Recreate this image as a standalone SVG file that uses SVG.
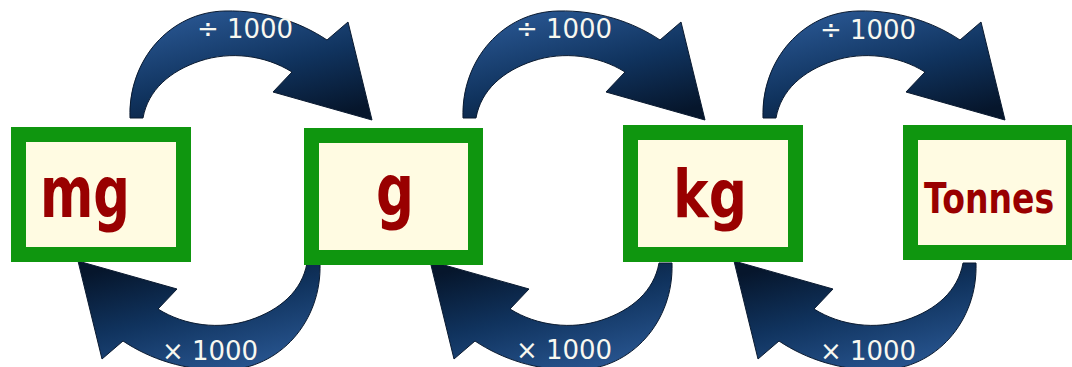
<svg xmlns="http://www.w3.org/2000/svg" xmlns:xlink="http://www.w3.org/1999/xlink" width="1072" height="367" viewBox="0 0 1072 367">
<style>
.box{fill:#fffbe2;stroke:#0f960f;stroke-width:15}
.frame{fill:#0f960f}
.inner{fill:#fffbe2}
.unit{font-family:"DejaVu Sans",sans-serif;font-weight:bold;fill:#990000}
.lbl{font-family:"DejaVu Sans",sans-serif;font-size:26px;fill:#f8f8f0;text-anchor:middle}
.arr{fill:url(#ag);stroke:#0a1a30;stroke-width:1}
</style>
<defs>
<linearGradient id="ag" x1="0.2" y1="0" x2="0.75" y2="1">
<stop offset="0" stop-color="#2a5894"/>
<stop offset="0.55" stop-color="#10335e"/>
<stop offset="1" stop-color="#06162c"/>
</linearGradient>
<path id="arrow" d="M130,118 C128,60 170,12 225,11 C265,10 300,22 327,40 L348,22 L372,120 L273,92 L292,72 C265,55 230,51 200,61 C170,71 148,90 143,118 Z"/>
</defs>
<g id="connectors">
<use xlink:href="#arrow" class="arr"/>
<use xlink:href="#arrow" class="arr" transform="translate(333,0)"/>
<use xlink:href="#arrow" class="arr" transform="translate(633,0)"/>
<use xlink:href="#arrow" class="arr" transform="rotate(180 225 190.5)"/>
<use xlink:href="#arrow" class="arr" transform="rotate(180 401 190.5)"/>
<use xlink:href="#arrow" class="arr" transform="rotate(180 553 190.5)"/>
<text class="lbl" x="245" y="38">÷ 1000</text>
<text class="lbl" x="564" y="38">÷ 1000</text>
<text class="lbl" x="868" y="39">÷ 1000</text>
<text class="lbl" x="210" y="360">× 1000</text>
<text class="lbl" x="564" y="359">× 1000</text>
<text class="lbl" x="868" y="360">× 1000</text>
</g>
<g id="mg">
<rect class="box" x="18.5" y="134.5" width="165" height="120"/>
<text class="unit" x="40" y="217" font-size="72" textLength="90" lengthAdjust="spacingAndGlyphs">mg</text>
</g>
<g id="g">
<rect class="box" x="311.5" y="135.5" width="164" height="122"/>
<text class="unit" x="376" y="215" font-size="72" textLength="38" lengthAdjust="spacingAndGlyphs">g</text>
</g>
<g id="kg">
<rect class="box" x="630.5" y="132.5" width="165" height="122"/>
<text class="unit" x="673" y="217" font-size="66" textLength="74" lengthAdjust="spacingAndGlyphs">kg</text>
</g>
<g id="tonnes">
<rect class="frame" x="903" y="125" width="169" height="135"/>
<rect class="inner" x="918" y="140" width="148" height="105"/>
<text class="unit" transform="translate(924,213) scale(0.92,1.18)" font-size="36">Tonnes</text>
</g>
</svg>
